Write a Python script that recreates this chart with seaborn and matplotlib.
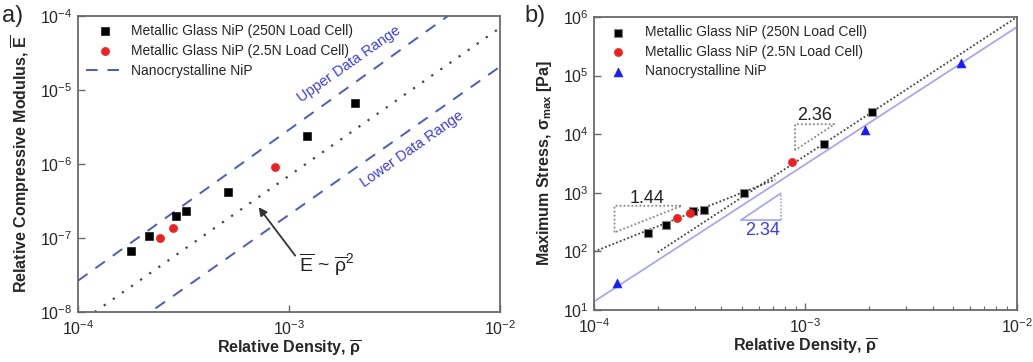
import matplotlib
matplotlib.use("Agg")
import matplotlib.pyplot as plt
import seaborn as sns
import pandas as pd
from matplotlib.ticker import LogLocator, NullLocator

# ---------------------------------------------------------------------------
# Datos
# ---------------------------------------------------------------------------
# a) modulo relativo
a_sq_x = [1.78e-4, 2.17e-4, 2.9e-4, 3.25e-4, 5.12e-4, 1.22e-3, 2.06e-3]
a_sq_y = [6.7e-8, 1.07e-7, 2.0e-7, 2.32e-7, 4.2e-7, 2.39e-6, 6.6e-6]
a_ci_x = [2.44e-4, 2.82e-4, 8.6e-4]
a_ci_y = [1.0e-7, 1.38e-7, 9.1e-7]
a_fit_x = [1.2e-4, 1e-2]
a_fit_y = [1e-8, 6.9e-5]
a_upper_x = [1e-4, 5.67e-3]
a_upper_y = [2.65e-8, 1e-4]
a_lower_x = [2.33e-4, 1e-2]
a_lower_y = [1.12e-8, 2.06e-5]

# b) tension maxima
b_sq_x = [1.8e-4, 2.2e-4, 2.94e-4, 3.3e-4, 5.14e-4, 1.23e-3, 2.07e-3]
b_sq_y = [209, 278, 482, 501, 1000, 6760, 24000]
b_ci_x = [2.47e-4, 2.86e-4, 8.62e-4]
b_ci_y = [375, 446, 3300]
b_tri_x = [1.29e-4, 1.91e-3, 5.41e-3]
b_tri_y = [29.2, 11700, 167000]
b_nano_fit_x = [1e-4, 1e-2]
b_nano_fit_y = [13.9, 6.76e5]
b_fit144_x = [1e-4, 7.2e-4]
b_fit144_y = [99, 1690]
b_fit236_x = [2e-4, 1e-2]
b_fit236_y = [96, 1e6]
tri144_x = [1.25e-4, 1.25e-4, 2.6e-4, 1.25e-4]
tri144_y = [211, 601, 601, 211]
tri236_x = [8.93e-4, 8.93e-4, 1.37e-3, 8.93e-4]
tri236_y = [5350, 14800, 14800, 5350]
tri234_x = [7.63e-4, 4.95e-4, 7.63e-4]
tri234_y = [977, 343, 343]
tri234_side_x = [7.63e-4, 7.63e-4]
tri234_side_y = [343, 977]

LBL_250 = "Metallic Glass NiP (250N Load Cell)"
LBL_25 = "Metallic Glass NiP (2.5N Load Cell)"
LBL_NANO = "Nanocrystalline NiP"

# ---------------------------------------------------------------------------
# Estilo
# ---------------------------------------------------------------------------
sns.set_theme(style="ticks")
plt.rcParams["font.family"] = ["Liberation Sans", "DejaVu Sans"]
plt.rcParams["mathtext.fontset"] = "custom"
plt.rcParams["mathtext.rm"] = "Liberation Sans"
plt.rcParams["mathtext.it"] = "Liberation Sans"
plt.rcParams["mathtext.bf"] = "Liberation Sans:bold"
plt.rcParams["xtick.direction"] = "in"
plt.rcParams["ytick.direction"] = "in"

SPINE = "#6a6a6a"
DASH_BLUE = "#4a5cc4"
TXT_BLUE = "#3a3cf0"
LIGHT_BLUE = "#a0a0ff"
RED = "#ee2020"
DOT = "#444444"


def linea(ax, x, y, **kw):
    df = pd.DataFrame({"x": x, "y": y})
    sns.lineplot(data=df, x="x", y="y", ax=ax, sort=False, estimator=None, **kw)


def estilo_ejes(ax, ylim, minor_x=False):
    ax.set_xscale("log")
    ax.set_yscale("log")
    ax.set_xlim(1e-4, 1e-2)
    ax.set_ylim(*ylim)
    ax.xaxis.set_major_locator(LogLocator(base=10, numticks=10))
    ax.yaxis.set_major_locator(LogLocator(base=10, numticks=10))
    if minor_x:
        ax.xaxis.set_minor_locator(LogLocator(base=10, subs=range(2, 10), numticks=10))
    else:
        ax.xaxis.set_minor_locator(NullLocator())
    ax.yaxis.set_minor_locator(NullLocator())
    ax.tick_params(which="major", length=5, width=1, color=SPINE, labelsize=11.5, pad=4)
    ax.tick_params(which="minor", length=3, width=0.8, color=SPINE)
    ax.tick_params(axis="x", which="major", pad=5)
    for s in ax.spines.values():
        s.set_visible(True)
        s.set_color(SPINE)
        s.set_linewidth(1.3)
    ax.set_xlabel(r"Relative Density, $\overline{\mathbf{\rho}}$", fontsize=11.5,
                  fontweight="bold", labelpad=1)


fig = plt.figure(figsize=(10.33, 3.62), dpi=100)
ax_a = fig.add_axes([0.0755, 0.138, 0.4085, 0.818])
ax_b = fig.add_axes([0.575, 0.1436, 0.4095, 0.8094])

# ---------------------------------------------------------------------------
# Panel a
# ---------------------------------------------------------------------------
linea(ax_a, a_fit_x, a_fit_y, color=DOT, lw=1.6, linestyle=(0, (1, 4)))
linea(ax_a, a_upper_x, a_upper_y, color=DASH_BLUE, lw=1.4, linestyle=(0, (6, 5)),
      label=LBL_NANO)
linea(ax_a, a_lower_x, a_lower_y, color=DASH_BLUE, lw=1.4, linestyle=(0, (6, 5)))
sns.scatterplot(x=a_sq_x, y=a_sq_y, ax=ax_a, marker="s", s=26, color="black",
                edgecolor="black", label=LBL_250, zorder=5)
sns.scatterplot(x=a_ci_x, y=a_ci_y, ax=ax_a, marker="o", s=34, color=RED,
                edgecolor=RED, label=LBL_25, zorder=5)
estilo_ejes(ax_a, (1e-8, 1e-4))
ax_a.set_ylabel(r"Relative Compressive Modulus, $\overline{\mathbf{E}}$", fontsize=11.5,
                fontweight="bold", labelpad=6)

ax_a.text(1.93e-3, 2.2e-5, "Upper Data Range", color=TXT_BLUE, fontsize=10.5,
          rotation=35, ha="center", va="center", rotation_mode="anchor")
ax_a.text(3.85e-3, 1.6e-6, "Lower Data Range", color=TXT_BLUE, fontsize=10.5,
          rotation=35, ha="center", va="center", rotation_mode="anchor")
ax_a.annotate("", xy=(7.05e-4, 2.79e-7), xytext=(1.09e-3, 5.4e-8),
              arrowprops=dict(arrowstyle="-|>", color="#333333", lw=1.3,
                              mutation_scale=12))
ax_a.text(1.12e-3, 4.3e-8, r"$\overline{\mathrm{E}}$ ~ $\overline{\mathrm{\rho}}^{2}$",
          fontsize=14, ha="left", va="center", color="#222222")

h, l = ax_a.get_legend_handles_labels()
orden = [l.index(LBL_250), l.index(LBL_25), l.index(LBL_NANO)]
ax_a.legend([h[i] for i in orden], [l[i] for i in orden], loc="upper left",
            frameon=False, fontsize=10, handlelength=2.8, handletextpad=0.5,
            labelspacing=0.45, borderaxespad=0.1, borderpad=0.45)

# ---------------------------------------------------------------------------
# Panel b
# ---------------------------------------------------------------------------
linea(ax_b, b_nano_fit_x, b_nano_fit_y, color=LIGHT_BLUE, lw=1.2)
linea(ax_b, b_fit144_x, b_fit144_y, color=DOT, lw=1.3, linestyle=(0, (1, 1.2)))
linea(ax_b, b_fit236_x, b_fit236_y, color=DOT, lw=1.3, linestyle=(0, (1, 1.2)))
linea(ax_b, tri144_x, tri144_y, color="#888888", lw=1.3, linestyle=(0, (1, 1.2)))
linea(ax_b, tri236_x, tri236_y, color="#888888", lw=1.3, linestyle=(0, (1, 1.2)))
linea(ax_b, tri234_x, tri234_y, color=LIGHT_BLUE, lw=1.2)
linea(ax_b, tri234_side_x, tri234_side_y, color=LIGHT_BLUE, lw=1.2, linestyle=(0, (1, 1)))
sns.scatterplot(x=b_sq_x, y=b_sq_y, ax=ax_b, marker="s", s=28, color="black",
                edgecolor="#888888", linewidth=0.8, label=LBL_250, zorder=5)
sns.scatterplot(x=b_ci_x, y=b_ci_y, ax=ax_b, marker="o", s=34, color=RED,
                edgecolor=RED, label=LBL_25, zorder=5)
sns.scatterplot(x=b_tri_x, y=b_tri_y, ax=ax_b, marker="^", s=40, color="#1a1aff",
                edgecolor="#1a1aff", label=LBL_NANO, zorder=5)
estilo_ejes(ax_b, (1e1, 1e6), minor_x=True)
ax_b.set_ylabel(r"Maximum Stress, $\mathbf{\sigma}_{\mathbf{max}}$ [Pa]", fontsize=11.5,
                fontweight="bold", labelpad=6)

ax_b.text(1.79e-4, 804, "1.44", fontsize=13, ha="center", va="center", color="#222222")
ax_b.text(1.11e-3, 21100, "2.36", fontsize=13, ha="center", va="center", color="#222222")
ax_b.text(6.25e-4, 225, "2.34", fontsize=13, ha="center", va="center", color=TXT_BLUE)

ax_b.legend(loc="upper left", bbox_to_anchor=(0.025, 0.972), frameon=False, fontsize=10,
            handlelength=2.0, handletextpad=0.9, labelspacing=0.4, borderaxespad=0,
            borderpad=0)

fig.text(0.002, 0.955, "a)", fontsize=17, ha="left", va="center")
fig.text(0.508, 0.955, "b)", fontsize=17, ha="left", va="center")

fig.savefig("out.png", dpi=100)
plt.close(fig)
